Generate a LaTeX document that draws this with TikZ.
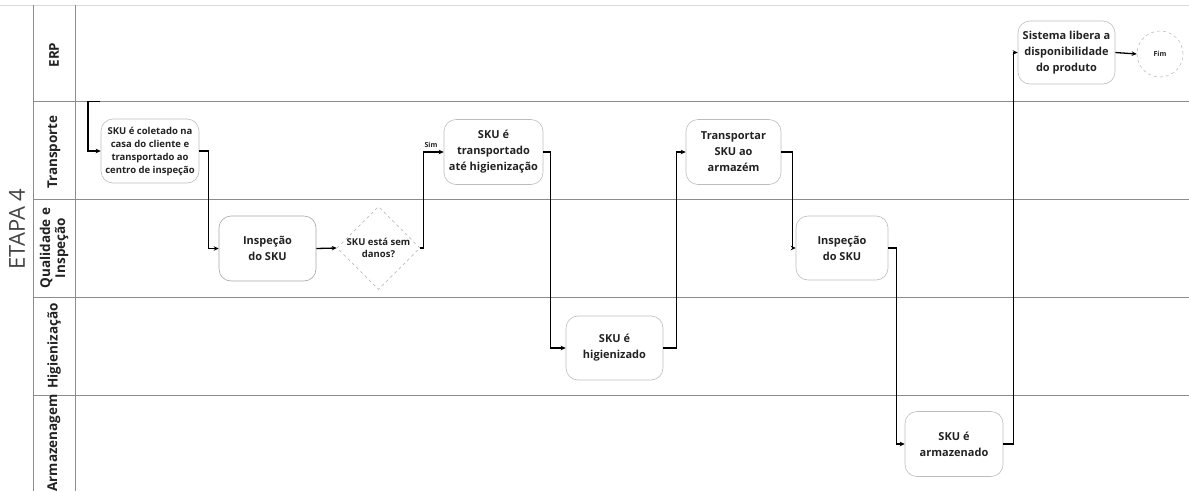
\documentclass[tikz,border=0pt]{standalone}
\usepackage{fontspec}
\setmainfont{Open Sans}
\usetikzlibrary{arrows.meta,shapes.geometric}
\definecolor{ink}{HTML}{222222}
\definecolor{laneline}{HTML}{8C8C8C}
\definecolor{topline}{HTML}{DADADA}
\definecolor{boxline}{HTML}{BDBDBD}
\definecolor{phase}{HTML}{444444}
\begin{document}
\begin{tikzpicture}[x=1pt,y=-1pt,
  task/.style={draw=boxline, line width=0.6pt, rounded corners=12pt, align=center,
    font=\bfseries\fontsize{11}{16}\selectfont, text=ink, inner sep=0pt, anchor=center},
  smalltask/.style={task, font=\bfseries\fontsize{9.5}{13}\selectfont},
  decision/.style={diamond, draw=boxline, dashed, line width=0.6pt, inner sep=0pt,
    minimum width=83pt, minimum height=72pt, align=center, text=ink,
    font=\bfseries\fontsize{9.5}{12}\selectfont},
  endevent/.style={circle, draw=boxline, dashed, line width=0.6pt, minimum size=46pt,
    inner sep=0pt, text=ink, font=\bfseries\fontsize{7}{8}\selectfont},
  lanetitle/.style={rotate=90, align=center, text=ink, font=\bfseries\fontsize{13.5}{15}\selectfont},
  flow/.style={draw=black, line width=1.3pt, -{Stealth[length=5pt,width=4.5pt]}},
  lanerule/.style={draw=laneline, line width=0.8pt}]

\useasboundingbox (0,0) rectangle (1189,491);

% pool frame and lanes
\draw[draw=topline, line width=1pt] (0,5) -- (1189,5);
\draw[lanerule] (33,5) -- (33,491);
\draw[lanerule] (75,5) -- (75,491);
\foreach \yy in {101,199,297,395}
  \draw[lanerule] (33,\yy) -- (1189,\yy);

\node[rotate=90, text=phase, font=\fontsize{22}{24}\selectfont] (phase) at (17,229) {ETAPA 4};
\node[lanetitle] (lerp) at (54,55) {ERP};
\node[lanetitle] (ltra) at (54,152) {Transporte};
\node[lanetitle] (lqua) at (54,248) {Qualidade e\\Inspeção};
\node[lanetitle] (lhig) at (54,346) {Higienização};
\node[lanetitle] (larm) at (54,443) {Armazenagem};

% activities
\node[smalltask, minimum width=98pt, minimum height=64pt] (n1) at (150,151)
  {SKU é coletado na\\casa do cliente e\\transportado ao\\centro de inspeção};
\node[task, draw=gray!70, minimum width=97pt, minimum height=65pt] (n2) at (267.5,248.5)
  {Inspeção\\do SKU};
\node[decision] (d) at (378.5,248) {SKU está sem\\danos?};
\node[task, minimum width=99pt, minimum height=65pt] (n4) at (493.5,152)
  {SKU é\\transportado\\até higienização};
\node[task, minimum width=97pt, minimum height=64pt] (n5) at (614.5,348)
  {SKU é\\higienizado};
\node[task, minimum width=95pt, minimum height=65pt] (n6) at (733.5,152)
  {Transportar\\SKU ao\\armazém};
\node[task, minimum width=92pt, minimum height=64pt] (n7) at (842,248)
  {Inspeção\\do SKU};
\node[task, minimum width=98pt, minimum height=65pt] (n8) at (954,444)
  {SKU é\\armazenado};
\node[task, minimum width=97pt, minimum height=63pt] (n9) at (1066.5,52.5)
  {Sistema libera a\\disponibilidade\\do produto};
\node[endevent] (fim) at (1160,54) {Fim};

% sequence flows
\coordinate (start) at (100,101.5);
\draw[flow] (start) -- ++(-12,0) |- (n1.west);
\draw[flow] (n1.east) -- ++(9,0) |- (n2.west);
\draw[flow] (n2.east) -- (d.west);
\draw[flow] (d.east) -- ++(3,0) |- (n4.west);
\node[text=ink, font=\bfseries\fontsize{7}{8}\selectfont] (sim) at (431,145) {Sim};
\draw[flow] (n4.east) -- ++(7,0) |- (n5.west);
\draw[flow] (n5.east) -- ++(13,0) |- (n6.west);
\draw[flow] (n6.east) -- ++(11,0) |- (n7.west);
\draw[flow] (n7.east) -- ++(8,0) |- (n8.west);
\draw[flow] (n8.east) -- ++(10,0) |- (n9.west);
\draw[flow] (n9.east) -- (fim.west);

\end{tikzpicture}
\end{document}
